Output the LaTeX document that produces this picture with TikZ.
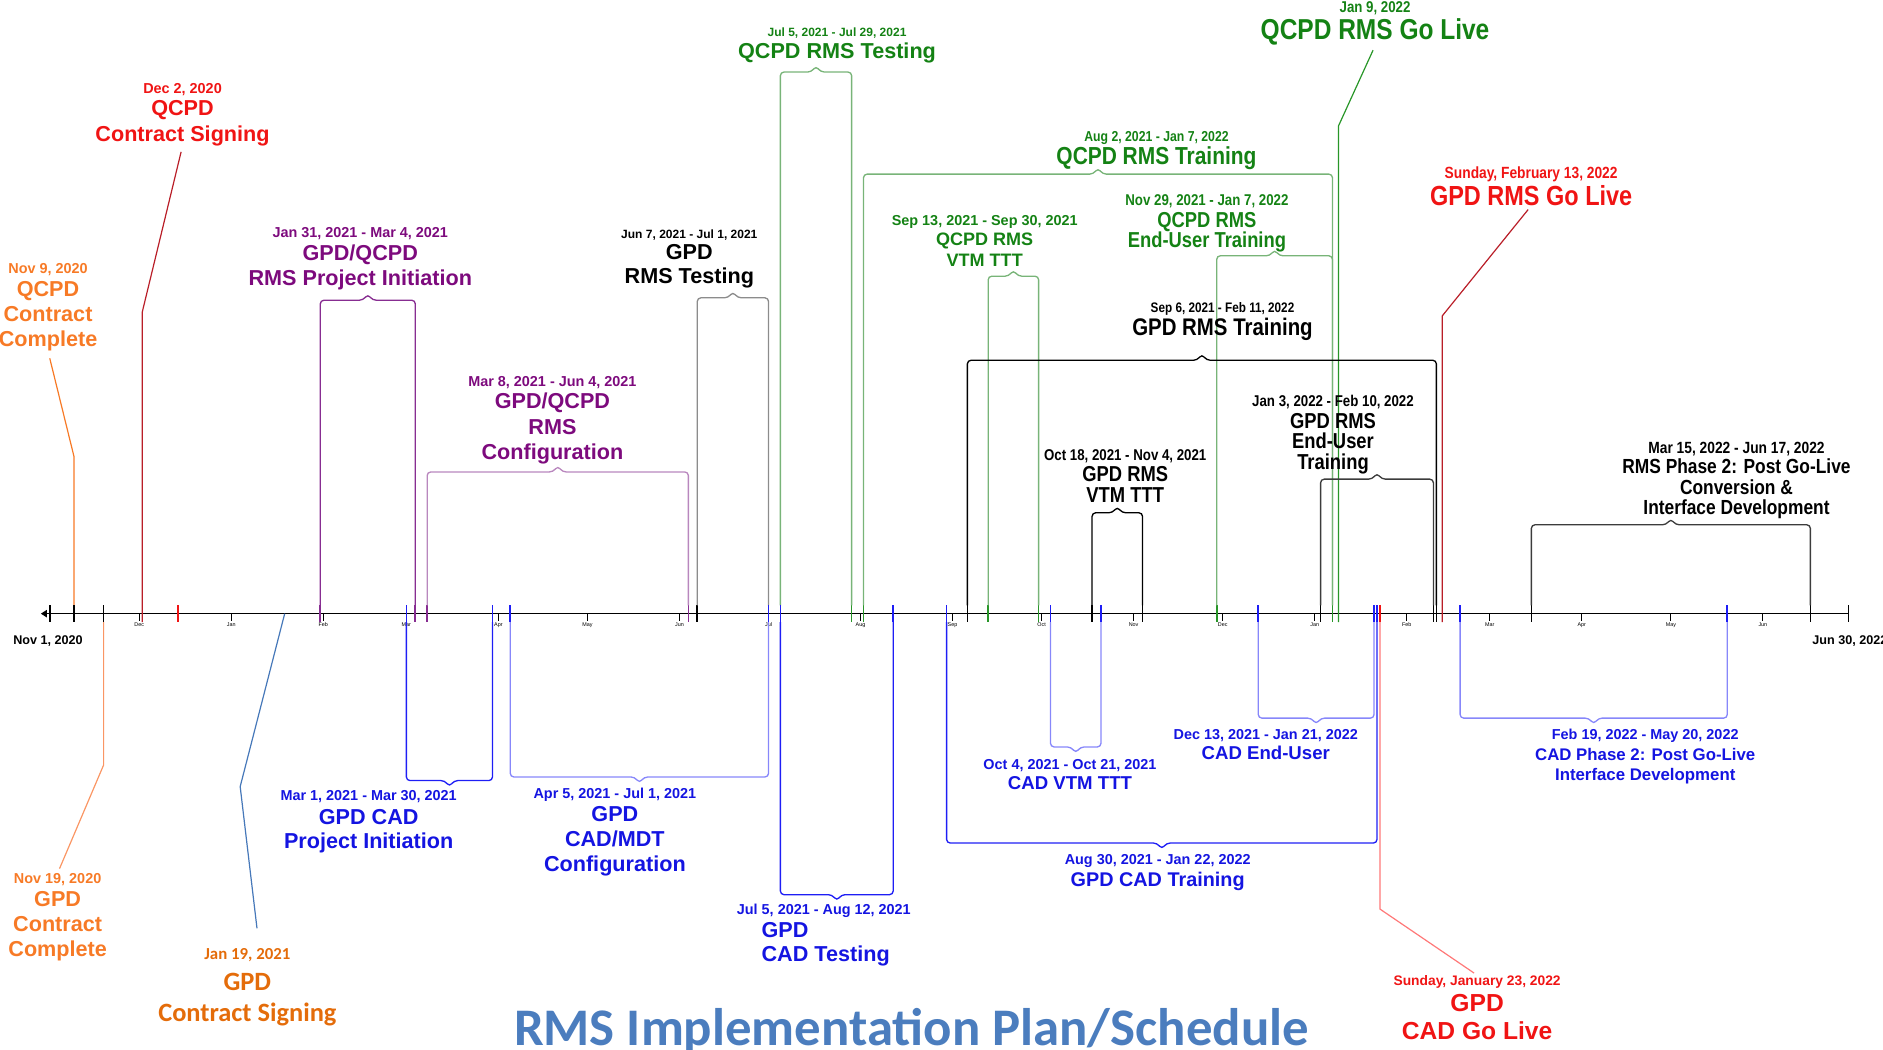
\documentclass[tikz,border=0pt]{standalone}
\usepackage{fontspec}
\setmainfont{Liberation Sans}
\newfontfamily\nrw[FakeStretch=0.85]{Liberation Sans}
\newfontfamily\calfnt{Carlito}
\usetikzlibrary{arrows.meta,positioning}

\definecolor{ogT}{RGB}{247,122,38}
\definecolor{ogL}{RGB}{250,150,100}
\definecolor{ogC}{RGB}{228,108,10}
\definecolor{rdT}{RGB}{240,20,20}
\definecolor{rdD}{RGB}{185,30,40}
\definecolor{rdL}{RGB}{255,120,120}
\definecolor{puT}{RGB}{125,10,125}
\definecolor{puD}{RGB}{135,45,145}
\definecolor{puL}{RGB}{185,135,190}
\definecolor{gnT}{RGB}{20,130,20}
\definecolor{gnD}{RGB}{40,150,40}
\definecolor{gnL}{RGB}{120,180,120}
\definecolor{blT}{RGB}{20,20,225}
\definecolor{blD}{RGB}{30,30,245}
\definecolor{blL}{RGB}{135,135,250}
\definecolor{gyD}{RGB}{60,60,60}
\definecolor{gyL}{RGB}{140,140,140}
\definecolor{stB}{RGB}{70,120,185}
\definecolor{ttl}{RGB}{75,125,190}

% x position of a day, counted from Nov 1, 2020
\newcommand\tday[1]{41.8+2.4717*(#1)}
\newcommand\fsz[2]{\fontsize{#1}{#2}\selectfont}

% bracket over the time line: line colour, tick colour, first day, last day, top
\newcommand\spanup[5]{%
  \draw[evtick,#2] ({\tday{#3}},504) -- ++(0,14);
  \draw[evtick,#2] ({\tday{#4}},504) -- ++(0,14);
  \draw[brk,#1] ({\tday{#3}},504) -- ({\tday{#3}},#5)
    -- ({(\tday{#3}+\tday{#4})/2-4},#5) -- ++(4,-5) -- ++(4,5)
    -- ({\tday{#4}},#5) -- ({\tday{#4}},504);
}
% bracket under the time line
\newcommand\spandown[5]{%
  \draw[evtick,#2] ({\tday{#3}},504) -- ++(0,14);
  \draw[evtick,#2] ({\tday{#4}},504) -- ++(0,14);
  \draw[brk,#1] ({\tday{#3}},518) -- ({\tday{#3}},#5)
    -- ({(\tday{#3}+\tday{#4})/2-4},#5) -- ++(4,5) -- ++(4,-5)
    -- ({\tday{#4}},#5) -- ({\tday{#4}},518);
}

\tikzset{
  axisln/.style={line width=1.3pt, black},
  evtick/.style={line width=1.4pt},
  brk/.style={line width=1.1pt, rounded corners=3pt},
  lead/.style={line width=1pt},
  mtick/.style={line width=0.9pt, black},
  mlbl/.style={font=\fsz{4.5}{5}, inner sep=0pt},
  lbl/.style={align=center, inner sep=0pt, anchor=north, font=\bfseries\fsz{18}{21}},
  nlbl/.style={lbl, font=\nrw\bfseries\fsz{18}{17}},
}

\begin{document}
\begin{tikzpicture}[x=1pt, y=-1pt]
    \useasboundingbox (0,0) rectangle (1568,874);

    % time line and months
    \draw[axisln, {Triangle[length=5pt,width=6pt]}-{Bar[width=14pt]}] (34,511) -- (1540,511);
    \draw[evtick, black] ({\tday{0}},504) -- ++(0,14);
    \foreach \md/\mn in {30/Dec,61/Jan,92/Feb,120/Mar,151/Apr,181/May,212/Jun,242/Jul,273/Aug,
        304/Sep,334/Oct,365/Nov,395/Dec,426/Jan,457/Feb,485/Mar,516/Apr,546/May,577/Jun}
      \draw[mtick] ({\tday{\md}},511) -- ++(0,6) node[mlbl, below=1pt] (m\md) {\mn};
    \node[font=\bfseries\fsz{10.5}{12}, inner sep=0pt] (start) at (40,534) {Nov 1, 2020};
    \node[font=\bfseries\fsz{10.5}{12}, inner sep=0pt, anchor=west] (stop) at (1509,534) {Jun 30, 2022};

    % milestones
    \node[lbl, text=ogT] (qcc) at (40,219) {{\fsz{12}{12}Nov 9, 2020}\\[-2pt]QCPD\\Contract\\Complete};
    \coordinate (qcc-k) at ({\tday{8}},380);
    \coordinate (qcc-t) at ({\tday{8}},504);
    \draw[lead, ogT, shorten <=6pt] (qcc.south) -- (qcc-k) -- (qcc-t);
    \draw[evtick, black] (qcc-t) -- ++(0,14);

    \node[lbl, text=rdT] (qcs) at (152,69) {{\fsz{12}{12}Dec 2, 2020}\\[-2pt]QCPD\\Contract Signing};
    \coordinate (qcs-k) at ({\tday{31}},260);
    \coordinate (qcs-t) at ({\tday{31}},518);
    \draw[lead, rdD, shorten <=5pt] (qcs.south) -- (qcs-k) -- (qcs-t);
    \draw[evtick, rdT] ({\tday{43}},504) -- ++(0,14);

    \node[lbl, text=ogT] (gcc) at (48,727) {{\fsz{12}{12}Nov 19, 2020}\\[-2pt]GPD\\Contract\\Complete};
    \coordinate (gcc-t) at ({\tday{18}},504);
    \coordinate (gcc-b) at ({\tday{18}},518);
    \coordinate (gcc-k) at ({\tday{18}},637);
    \draw[evtick, black] (gcc-t) -- (gcc-b);
    \draw[lead, ogL, shorten >=4pt] (gcc-b) -- (gcc-k) -- (gcc.north);

    \node[lbl, text=ogC, font=\calfnt\bfseries\fsz{22}{26}] (gcs) at (206,790) {{\fsz{14}{14}Jan 19, 2021}\\[-1pt]GPD\\Contract Signing};
    \coordinate (gcs-t) at ({\tday{79}},511);
    \coordinate (gcs-k) at (200,655);
    \draw[lead, stB] (gcs-t) -- (gcs-k) -- ([shift={(8,-17)}]gcs.north);

    \node[nlbl, text=gnT, font=\nrw\bfseries\fsz{24}{26}] (qgl) at (1145,1) {{\fsz{13}{13}Jan 9, 2022}\\[-3pt]QCPD RMS Go Live};
    \coordinate (qgl-k) at ({\tday{434}},105);
    \coordinate (qgl-t) at ({\tday{434}},518);
    \draw[lead, gnD, shorten <=4pt] (qgl.south) -- (qgl-k) -- (qgl-t);

    \node[nlbl, text=rdT, font=\nrw\bfseries\fsz{23}{25}] (ggl) at (1275,139) {{\fsz{13.5}{14}Sunday, February 13, 2022}\\[-3pt]GPD RMS Go Live};
    \coordinate (ggl-k) at ({\tday{469}},263);
    \coordinate (ggl-t) at ({\tday{469}},518);
    \draw[lead, rdD, shorten <=4pt] (ggl.south) -- (ggl-k) -- (ggl-t);

    \node[lbl, text=rdT, font=\bfseries\fsz{20.5}{23}] (cgl) at (1230,812) {{\fsz{11.5}{12}Sunday, January 23, 2022}\\[-1pt]GPD\\CAD Go Live};
    \coordinate (cgl-t) at ({\tday{448}},504);
    \coordinate (cgl-b) at ({\tday{448}},518);
    \coordinate (cgl-k) at ({\tday{448}},757);
    \draw[evtick, rdT] (cgl-t) -- (cgl-b);
    \draw[lead, rdL, shorten >=3pt] (cgl-b) -- (cgl-k) -- (cgl.north);

    % RMS phases (above)
    \spanup{puD}{puD}{91}{123}{250}
    \node[lbl, text=puT] (pin) at (300,189) {{\fsz{12}{12}Jan 31, 2021 - Mar 4, 2021}\\[-2pt]GPD/QCPD\\RMS Project Initiation};
    \spanup{puL}{puD}{127}{215}{393}
    \node[lbl, text=puT] (cfg) at (460,313) {{\fsz{12}{12}Mar 8, 2021 - Jun 4, 2021}\\[-2pt]GPD/QCPD\\RMS\\Configuration};
    \spanup{gyL}{black}{218}{242}{248}
    \node[lbl, font=\bfseries\fsz{18}{20}] (grt) at (574,191) {{\fsz{10}{10}Jun 7, 2021 - Jul 1, 2021}\\[-2pt]GPD\\RMS Testing};
    \spanup{gnL}{gnD}{246}{270}{60}
    \node[lbl, text=gnT] (qrt) at (697,23) {{\fsz{10}{10}Jul 5, 2021 - Jul 29, 2021}\\[-3pt]QCPD RMS Testing};
    \spanup{gnL}{gnD}{274}{432}{145}
    \node[nlbl, text=gnT, font=\nrw\bfseries\fsz{20.5}{22}] (qtr) at (963,109) {{\fsz{12}{12}Aug 2, 2021 - Jan 7, 2022}\\[-3pt]QCPD RMS Training};
    \spanup{gnL}{gnD}{316}{333}{230}
    \node[lbl, text=gnT, font=\bfseries\fsz{15}{17}] (qvt) at (820,179) {{\fsz{12}{12}Sep 13, 2021 - Sep 30, 2021}\\QCPD RMS\\VTM TTT};
    \spanup{gnL}{gnD}{393}{432}{213}
    \node[nlbl, text=gnT] (qeu) at (1005,162) {{\fsz{13}{13}Nov 29, 2021 - Jan 7, 2022}\\[1pt]QCPD RMS\\End-User Training};
    \spanup{black}{black}{309}{467}{300}
    \node[nlbl, font=\nrw\bfseries\fsz{20}{22}] (gtr) at (1018,252) {{\fsz{11.5}{12}Sep 6, 2021 - Feb 11, 2022}\\[-3pt]GPD RMS Training};
    \spanup{black}{black}{351}{368}{427}
    \node[nlbl] (gvt) at (937,374) {{\fsz{13}{13}Oct 18, 2021 - Nov 4, 2021}\\[1pt]GPD RMS\\VTM TTT};
    \spanup{gyD}{black}{428}{466}{399}
    \node[nlbl] (geu) at (1110,329) {{\fsz{13}{13}Jan 3, 2022 - Feb 10, 2022}\\[1pt]GPD RMS\\End-User\\Training};
    \spanup{gyD}{black}{499}{593}{437}
    \node[nlbl, font=\nrw\bfseries\fsz{17}{17}] (ph2) at (1446,368) {{\fsz{13.5}{14}Mar 15, 2022 - Jun 17, 2022}\\RMS Phase 2: Post Go-Live\\Conversion \&\\Interface Development};

    % CAD phases (below)
    \spandown{blD}{blD}{120}{149}{650}
    \node[lbl, text=blT, font=\bfseries\fsz{18}{20}] (cpi) at (307,658) {{\fsz{12}{12}Mar 1, 2021 - Mar 30, 2021}\\GPD CAD\\Project Initiation};
    \spandown{blL}{blD}{155}{242}{647}
    \node[lbl, text=blT, font=\bfseries\fsz{18}{20.5}] (cmd) at (512,656) {{\fsz{12}{12}Apr 5, 2021 - Jul 1, 2021}\\[-1pt]GPD\\CAD/MDT\\Configuration};
    \spandown{blD}{blD}{246}{284}{745}
    \node[lbl, text=blT, font=\bfseries\fsz{12}{12}] (cte-d) at (686,753) {Jul 5, 2021 - Aug 12, 2021};
    \node[lbl, text=blT, font=\bfseries\fsz{18}{20}, anchor=north west, align=left] (cte) at (634,768) {GPD\\CAD Testing};
    \spandown{blD}{blD}{302}{447}{702}
    \node[lbl, text=blT, font=\bfseries\fsz{16.5}{19}] (ctr) at (964,711) {{\fsz{12}{12}Aug 30, 2021 - Jan 22, 2022}\\GPD CAD Training};
    \spandown{blL}{blD}{337}{354}{622}
    \node[lbl, text=blT, font=\bfseries\fsz{15.5}{17}] (cvt) at (891,632) {{\fsz{12}{12}Oct 4, 2021 - Oct 21, 2021}\\CAD VTM TTT};
    \spandown{blL}{blD}{407}{446}{598}
    \node[lbl, text=blT, font=\bfseries\fsz{15.5}{17}] (ceu) at (1054,607) {{\fsz{12}{12}Dec 13, 2021 - Jan 21, 2022}\\CAD End-User};
    \spandown{blL}{blD}{475}{565}{598}
    \node[lbl, text=blT, font=\bfseries\fsz{14}{17}] (cp2) at (1370,607) {{\fsz{12}{12}Feb 19, 2022 - May 20, 2022}\\CAD Phase 2: Post Go-Live\\Interface Development};

    % title
    \node[font=\calfnt\bfseries\fsz{44}{48}, text=ttl, anchor=base, inner sep=0pt] (title) at (759,871) {RMS Implementation Plan/Schedule};
\end{tikzpicture}
\end{document}
